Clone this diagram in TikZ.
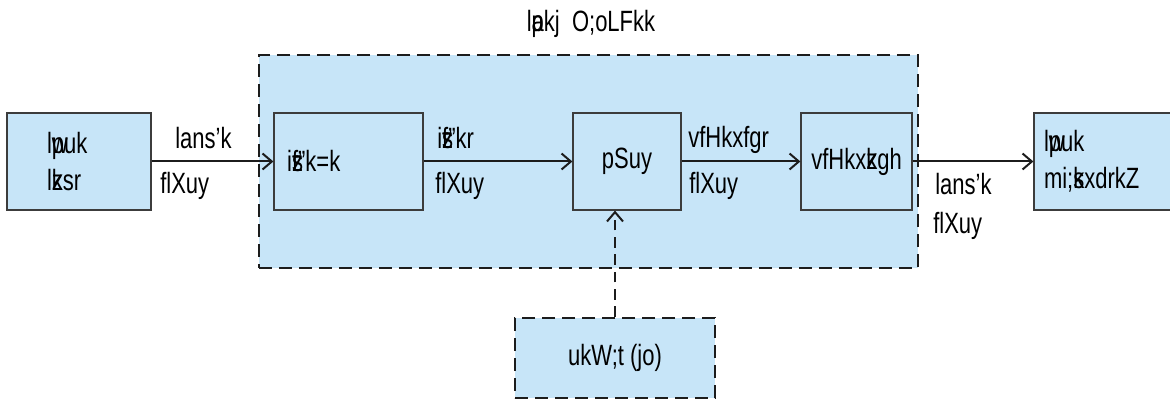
\documentclass[tikz,border=0pt]{standalone}
\usepackage{fontspec}
\setmainfont{Liberation Sans}[FakeStretch=0.75, Ligatures={TeX,NoCommon}]
\usetikzlibrary{arrows.meta}
\newcommand{\ovl}[1]{\makebox[0pt][l]{#1}}

\begin{document}
\begin{tikzpicture}[x=0.75pt, y=-0.75pt, font=\fontsize{22}{28}\selectfont]
% Colors
\definecolor{boxfill}{RGB}{199,229,248}
\definecolor{boxline}{RGB}{60,60,60}
\definecolor{dashline}{RGB}{28,28,28}

\tikzset{
  block/.style={draw=boxline, line width=0.9pt, fill=boxfill, inner sep=0pt, minimum height=72.75pt},
  dashblock/.style={draw=dashline, line width=1.6pt, fill=boxfill, dash pattern=on 10pt off 5pt},
  flow/.style={-{Straight Barb[length=7pt, width=12pt]}, line width=1.5pt, dashline},
  lbl/.style={anchor=base west, inner sep=0pt}
}

\useasboundingbox (0,0) rectangle (1170,399);

% System boundary
\node[dashblock, minimum width=494.25pt, minimum height=159.75pt] (sys) at (588.5,161.5) {};
\node[anchor=base, inner sep=0pt] (title) at (591,32) {l\ovl{a}pkj \ O;oLFkk};

% Blocks
\node[block, minimum width=108pt, text width=48pt, align=left] (src) at (79,161.5) {l\ovl{w}puk\\l\ovl{z}ksr};
\node[block, minimum width=111.75pt, text width=92pt, align=left] (tx) at (348.5,161.5) {i\ovl{z}\ovl{s}f"k=k};
\node[block, minimum width=81pt] (ch) at (627,161.5) {pSuy};
\node[block, minimum width=83.25pt] (rx) at (856.5,161.5) {vfHkx\ovl{z}kgh};
\node[block, minimum width=102.75pt, text width=87.75pt, align=left] (dst) at (1102.5,161.5) {l\ovl{w}puk\\mi;\ovl{k}sxdrkZ};

% Noise source
\node[dashblock, minimum width=150pt, minimum height=60pt] (noise) at (615,358) {\raisebox{-5pt}{ukW;t (jo)}};

% Signal path
\draw[flow] (src.east) -- (tx.west);
\draw[flow] (tx.east) -- (ch.west);
\draw[flow] (ch.east) -- (rx.west);
\draw[flow] (rx.east) -- (dst.west);
\draw[flow, dash pattern=on 8pt off 5pt] (noise.north) -- (noise.north |- ch.south);

% Path labels
\node[lbl] (msg1) at (175,149) {lans'k};
\node[lbl] (sig1) at (160,194) {flXuy};
\node[lbl] (msg2) at (437,149) {i\ovl{z}\ovl{s}f"kr};
\node[lbl] (sig2) at (435,193) {flXuy};
\node[lbl] (msg3) at (688,148) {vfHkxfgr};
\node[lbl] (sig3) at (689,193) {flXuy};
\node[lbl] (msg4) at (935,195) {lans'k};
\node[lbl] (sig4) at (933,233) {flXuy};

\end{tikzpicture}
\end{document}
